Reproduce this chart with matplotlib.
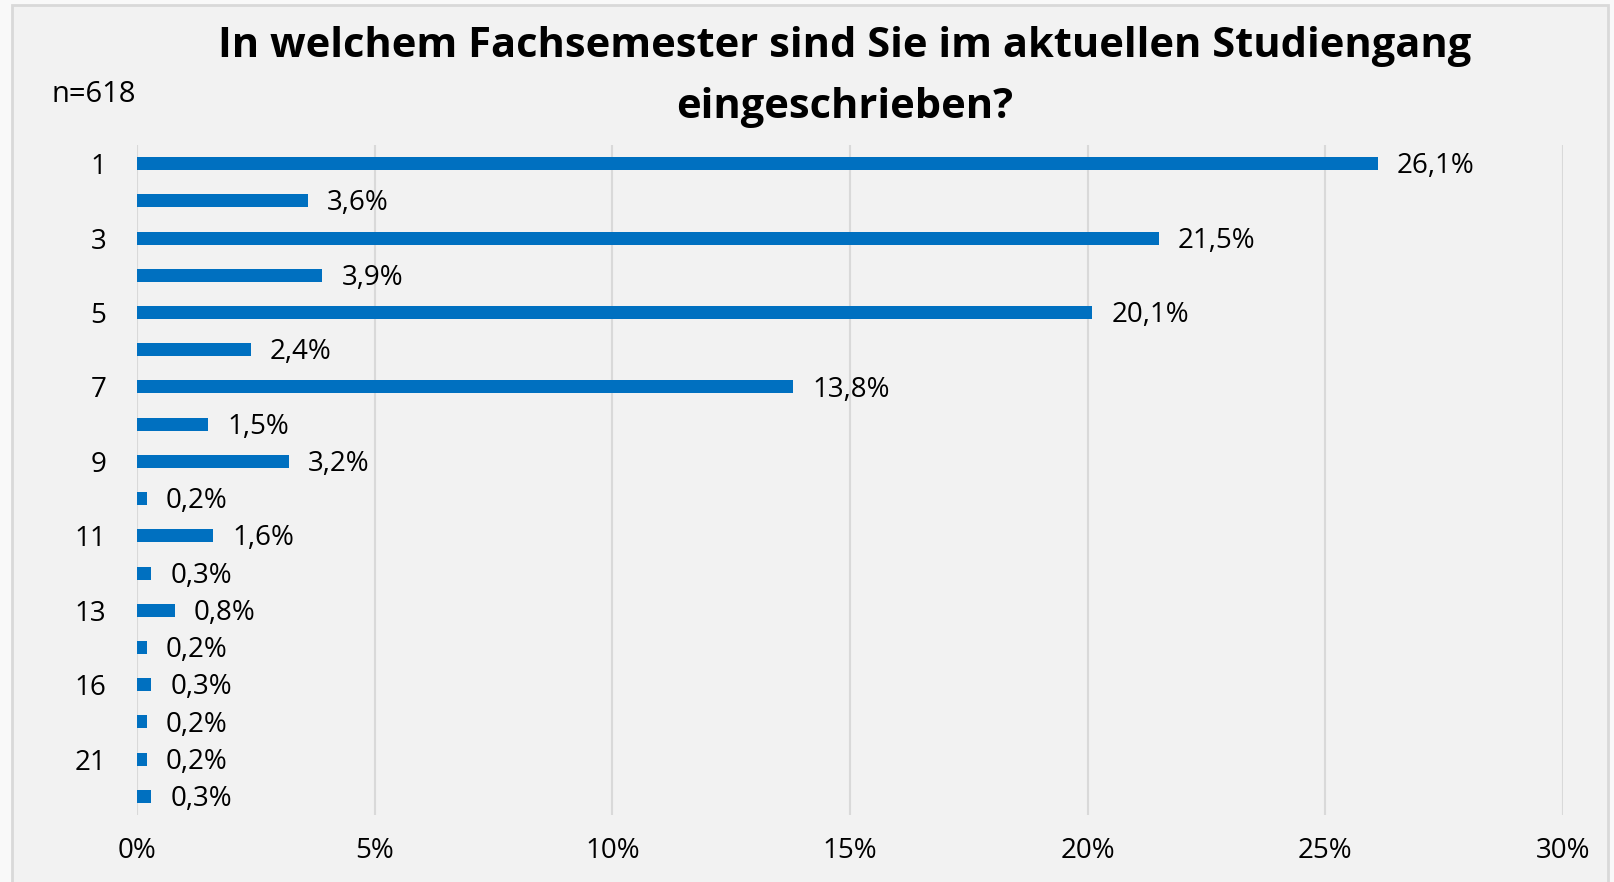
import matplotlib
matplotlib.use("Agg")
import matplotlib.pyplot as plt
from matplotlib.patches import Rectangle
from matplotlib.ticker import FuncFormatter

# Fachsemester (only every other label is shown, as in the original)
semester = ["1", "2", "3", "4", "5", "6", "7", "8", "9", "10", "11", "12",
            "13", "14", "16", "18", "21", "23"]
share = [26.1, 3.6, 21.5, 3.9, 20.1, 2.4, 13.8, 1.5, 3.2, 0.2, 1.6, 0.3,
         0.8, 0.2, 0.3, 0.2, 0.2, 0.3]
x_ticks = [0, 5, 10, 15, 20, 25, 30]

title = "In welchem Fachsemester sind Sie im aktuellen Studiengang\neingeschrieben?"
n_note = "n=618"

plt.rcParams["font.family"] = ["Open Sans", "DejaVu Sans"]

W, H = 1614, 882
fig = plt.figure(figsize=(W / 100, H / 100), dpi=100)
fig.patch.set_facecolor("#f9f9f9")
frame = Rectangle((12 / W, -0.01), (1608 - 12) / W, 1 - 5 / H + 0.01,
                  transform=fig.transFigure, facecolor="#f2f2f2",
                  edgecolor="#d9d9d9", linewidth=2, zorder=-10)
fig.add_artist(frame)

ax = fig.add_axes([137 / W, 1 - 815 / H, (1563 - 137) / W, (815 - 145) / H])
ax.set_facecolor("none")
ax.set_zorder(5)

ypos = list(range(len(semester)))
ax.barh(ypos, share, height=0.35, color="#0070c0", zorder=3)
for y, v in zip(ypos, share):
    ax.text(v + 0.4, y + 0.07, f"{v:.1f}%".replace(".", ","), va="center",
            ha="left", fontsize=20, color="#000000")

ax.set_ylim(len(semester) - 0.5, -0.5)
ax.set_yticks(ypos[::2])
ax.set_yticklabels(semester[::2])
ax.set_xlim(0, 30)
ax.set_xticks(x_ticks)
ax.xaxis.set_major_formatter(FuncFormatter(lambda v, _: f"{v:.0f}%"))
ax.tick_params(axis="both", length=0, labelsize=20, colors="#000000")
ax.tick_params(axis="x", pad=16)
ax.tick_params(axis="y", pad=22)
ax.grid(axis="x", color="#d9d9d9", linewidth=1.5, zorder=0)
for s in ax.spines.values():
    s.set_visible(False)

fig.text(845 / W, 1 - 77 / H, title, ha="center", va="center", fontsize=30,
         fontweight="bold", linespacing=1.62)
fig.text(52 / W, 1 - 94 / H, n_note, ha="left", va="center", fontsize=21)

fig.savefig("out.png", dpi=100, facecolor=fig.get_facecolor())
